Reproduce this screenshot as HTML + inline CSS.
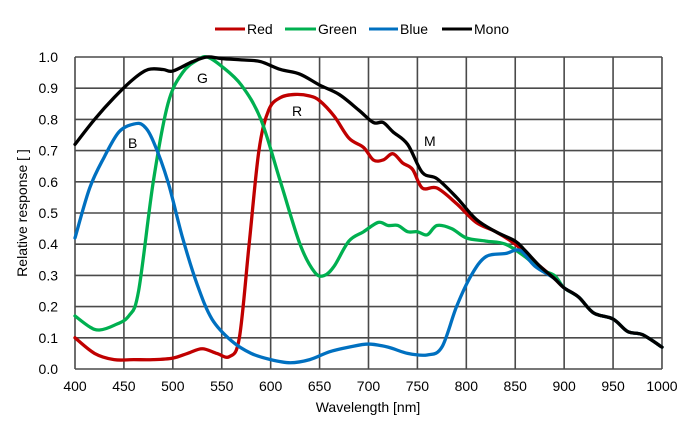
<!DOCTYPE html>
<html><head><meta charset="utf-8"><style>
html,body{margin:0;padding:0;background:#fff;}
svg{display:block;font-family:"Liberation Sans",Arial,sans-serif;}
</style></head><body>
<svg id="s" width="690" height="428" viewBox="0 0 690 428" xmlns="http://www.w3.org/2000/svg">
<g id="grid" stroke="#4a4a4a" stroke-width="1.6" fill="none"></g>
<g id="curves" fill="none" stroke-width="3.3" stroke-linejoin="round" stroke-linecap="round"></g>
<g id="labels" font-size="14" fill="#000"></g>
<g font-size="14" fill="#000">
<line x1="215" y1="29" x2="245" y2="29" stroke="#c00000" stroke-width="3"/><text x="247" y="34">Red</text>
<line x1="285" y1="29" x2="316" y2="29" stroke="#00b050" stroke-width="3"/><text x="318" y="34">Green</text>
<line x1="369" y1="29" x2="398" y2="29" stroke="#0070c0" stroke-width="3"/><text x="400" y="34">Blue</text>
<line x1="442" y1="29" x2="472" y2="29" stroke="#000" stroke-width="3"/><text x="474" y="34">Mono</text>
<text x="197" y="83">G</text><text x="128" y="148">B</text><text x="292" y="116">R</text><text x="424" y="146">M</text>
<text x="368" y="412" text-anchor="middle">Wavelength [nm]</text>
<text transform="translate(27,213) rotate(-90)" text-anchor="middle">Relative response [ ]</text>
</g>
</svg>
<script>
var X=function(w){return 75+(w-400)*0.9783},Y=function(v){return 369-v*312};
var ns="http://www.w3.org/2000/svg";
var g=document.getElementById('grid'),lb=document.getElementById('labels');
function el(p,t,a,txt){var e=document.createElementNS(ns,t);for(var k in a)e.setAttribute(k,a[k]);if(txt)e.textContent=txt;p.appendChild(e);return e;}
for(var i=0;i<=12;i++){var x=X(400+i*50);el(g,'line',{x1:x,y1:Y(1),x2:x,y2:Y(0)});el(lb,'text',{x:x,y:391,'text-anchor':'middle'},String(400+i*50));}
for(var j=0;j<=10;j++){var y=Y(j/10);el(g,'line',{x1:X(400),y1:y,x2:X(1000),y2:y});el(lb,'text',{x:58,y:y+5,'text-anchor':'end'},(j/10).toFixed(1));}
var tail=[[915,.23],[930,.18],[950,.16],[965,.12],[980,.11],[1000,.07]];
var mono=[[400,.72],[420,.80],[440,.87],[460,.93],[475,.96],[490,.96],[500,.955],[520,.985],[535,1],[550,.995],[575,.99],[590,.985],[610,.96],[630,.945],[650,.91],[670,.88],[690,.83],[705,.79],[715,.79],[725,.76],[740,.72],[755,.63],[770,.61],[790,.55],[810,.48],[830,.44],[850,.41],[860,.38],[875,.33],[890,.29],[900,.26]].concat(tail);
var red=[[400,.10],[420,.05],[440,.03],[460,.03],[480,.03],[500,.035],[515,.05],[530,.065],[545,.05],[558,.04],[568,.1],[578,.4],[588,.7],[598,.83],[610,.87],[625,.88],[640,.875],[650,.86],[665,.81],[680,.74],[695,.71],[705,.67],[715,.67],[725,.69],[735,.66],[745,.64],[755,.58],[770,.58],[790,.53],[810,.47],[830,.44],[850,.40],[860,.37],[875,.33],[890,.29],[900,.26]].concat(tail);
var green=[[400,.17],[415,.135],[425,.125],[440,.14],[455,.17],[465,.25],[480,.6],[495,.85],[510,.95],[525,.99],[535,1],[550,.97],[570,.91],[590,.80],[610,.6],[630,.40],[645,.31],[655,.30],[665,.33],[680,.41],[695,.44],[710,.47],[720,.46],[730,.46],[740,.44],[750,.44],[760,.43],[770,.46],[785,.45],[800,.42],[820,.41],[840,.40],[860,.36],[875,.32],[890,.30],[900,.26]].concat(tail);
var blue=[[400,.42],[415,.58],[430,.68],[445,.76],[460,.785],[470,.78],[480,.73],[495,.6],[510,.42],[525,.27],[540,.16],[560,.09],[580,.05],[600,.03],[620,.02],[640,.03],[660,.055],[680,.07],[700,.08],[720,.07],[740,.05],[760,.045],[775,.07],[790,.2],[805,.3],[820,.36],[840,.37],[855,.38],[870,.33],[890,.29],[900,.26]].concat(tail);
function path(d){var p=d.map(function(a){return [X(a[0]),Y(a[1])]});var s='M'+p[0][0]+','+p[0][1];
for(var i=0;i<p.length-1;i++){var p0=p[i-1]||p[i],p1=p[i],p2=p[i+1],p3=p[i+2]||p2;
s+=' C'+(p1[0]+(p2[0]-p0[0])/6)+','+(p1[1]+(p2[1]-p0[1])/6)+' '+(p2[0]-(p3[0]-p1[0])/6)+','+(p2[1]-(p3[1]-p1[1])/6)+' '+p2[0]+','+p2[1];}return s;}
var c=document.getElementById('curves');
el(c,'path',{d:path(red),stroke:'#c00000'});
el(c,'path',{d:path(green),stroke:'#00b050'});
el(c,'path',{d:path(blue),stroke:'#0070c0'});
el(c,'path',{d:path(mono),stroke:'#000'});
</script>
</body></html>
